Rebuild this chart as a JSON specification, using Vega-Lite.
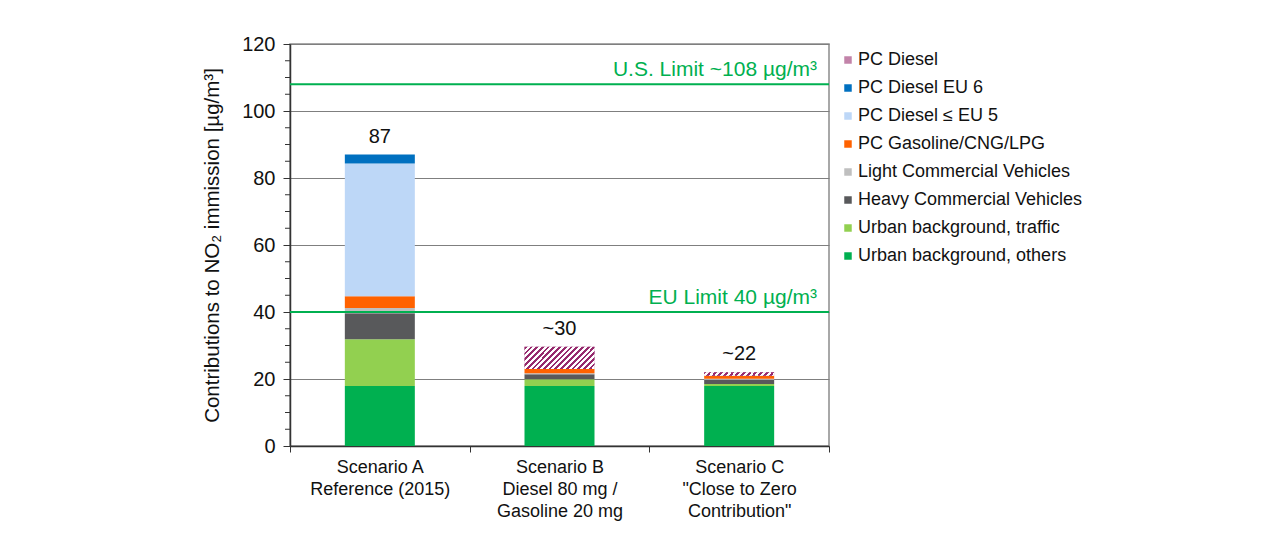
{
  "$schema": "https://vega.github.io/schema/vega-lite/v6.json",
  "width": 539,
  "height": 402,
  "autosize": {"type": "none"},
  "padding": {"left": 290, "top": 44, "right": 451, "bottom": 89},
  "background": "white",
  "config": {
    "font": "Liberation Sans",
    "view": {"stroke": "#8c8c8c", "strokeWidth": 1.5},
    "axis": {"labelFont": "Liberation Sans", "titleFont": "Liberation Sans", "labelColor": "#111", "titleColor": "#111", "labelFontSize": 18, "titleFontSize": 18, "titleFontWeight": "normal", "domainColor": "#333", "tickColor": "#333"},
    "legend": {"labelFont": "Liberation Sans", "labelFontSize": 18, "labelColor": "#111", "symbolType": "square", "symbolSize": 56, "symbolStrokeWidth": 0, "rowPadding": 10, "offset": 3, "padding": 7, "labelLimit": 400, "labelOffset": 1}
  },
  "datasets": {
    "contrib": [
      {"scenario": "Scenario A|Reference (2015)", "source": "Urban background, others", "value": 17.9},
      {"scenario": "Scenario A|Reference (2015)", "source": "Urban background, traffic", "value": 14.0},
      {"scenario": "Scenario A|Reference (2015)", "source": "Heavy Commercial Vehicles", "value": 7.7},
      {"scenario": "Scenario A|Reference (2015)", "source": "Light Commercial Vehicles", "value": 1.6},
      {"scenario": "Scenario A|Reference (2015)", "source": "PC Gasoline/CNG/LPG", "value": 3.5},
      {"scenario": "Scenario A|Reference (2015)", "source": "PC Diesel ≤ EU 5", "value": 39.6},
      {"scenario": "Scenario A|Reference (2015)", "source": "PC Diesel EU 6", "value": 2.7},
      {"scenario": "Scenario B|Diesel 80 mg /|Gasoline 20 mg", "source": "Urban background, others", "value": 17.9},
      {"scenario": "Scenario B|Diesel 80 mg /|Gasoline 20 mg", "source": "Urban background, traffic", "value": 2.0},
      {"scenario": "Scenario B|Diesel 80 mg /|Gasoline 20 mg", "source": "Heavy Commercial Vehicles", "value": 1.5},
      {"scenario": "Scenario B|Diesel 80 mg /|Gasoline 20 mg", "source": "Light Commercial Vehicles", "value": 0.3},
      {"scenario": "Scenario B|Diesel 80 mg /|Gasoline 20 mg", "source": "PC Gasoline/CNG/LPG", "value": 1.3},
      {"scenario": "Scenario B|Diesel 80 mg /|Gasoline 20 mg", "source": "PC Diesel", "value": 6.6},
      {"scenario": "Scenario C|\"Close to Zero|Contribution\"", "source": "Urban background, others", "value": 17.9},
      {"scenario": "Scenario C|\"Close to Zero|Contribution\"", "source": "Urban background, traffic", "value": 0.6},
      {"scenario": "Scenario C|\"Close to Zero|Contribution\"", "source": "Heavy Commercial Vehicles", "value": 1.3},
      {"scenario": "Scenario C|\"Close to Zero|Contribution\"", "source": "Light Commercial Vehicles", "value": 0.3},
      {"scenario": "Scenario C|\"Close to Zero|Contribution\"", "source": "PC Gasoline/CNG/LPG", "value": 0.9},
      {"scenario": "Scenario C|\"Close to Zero|Contribution\"", "source": "PC Diesel", "value": 1.0}
    ],
    "totals": [
      {"scenario": "Scenario A|Reference (2015)", "total": 87, "label": "87"},
      {"scenario": "Scenario B|Diesel 80 mg /|Gasoline 20 mg", "total": 29.6, "label": "~30"},
      {"scenario": "Scenario C|\"Close to Zero|Contribution\"", "total": 22, "label": "~22"}
    ],
    "limits": [
      {"limit": 40, "label": "EU Limit 40 µg/m³"},
      {"limit": 108, "label": "U.S. Limit ~108 µg/m³"}
    ],
    "minorTicks": [
      {"v": 5}, {"v": 10}, {"v": 15}, {"v": 25}, {"v": 30}, {"v": 35}, {"v": 45}, {"v": 50}, {"v": 55},
      {"v": 65}, {"v": 70}, {"v": 75}, {"v": 85}, {"v": 90}, {"v": 95}, {"v": 105}, {"v": 110}, {"v": 115}
    ]
  },
  "layer": [
    {
      "data": {"name": "contrib"},
      "transform": [
        {"calculate": "indexof(['Urban background, others','Urban background, traffic','Heavy Commercial Vehicles','Light Commercial Vehicles','PC Gasoline/CNG/LPG','PC Diesel ≤ EU 5','PC Diesel EU 6','PC Diesel'], datum.source)", "as": "stackOrder"}
      ],
      "mark": {"type": "bar", "size": 70},
      "encoding": {
        "x": {
          "field": "scenario", "type": "nominal", "sort": null,
          "scale": {"paddingInner": 0, "paddingOuter": 0},
          "axis": {"title": null, "labelAngle": 0, "labelExpr": "datum.value ? split(datum.value, '|') : ''", "labelLineHeight": 22, "tickBand": "extent", "tickSize": 6, "labelPadding": 6, "domainWidth": 1.5}
        },
        "y": {
          "field": "value", "type": "quantitative", "aggregate": "sum", "stack": "zero",
          "scale": {"domain": [0, 120], "nice": false},
          "axis": {"title": "Contributions to NO₂ immission [µg/m³]", "values": [0, 20, 40, 60, 80, 100, 120], "grid": true, "gridColor": "#7f7f7f", "gridWidth": 1.2, "tickSize": 7, "labelPadding": 8, "labelFontSize": 20, "titleFontSize": 20.5, "titlePadding": 19, "domainWidth": 1.5}
        },
        "order": {"field": "stackOrder", "type": "quantitative", "aggregate": "min", "sort": "ascending"},
        "color": {
          "field": "source", "type": "nominal",
          "scale": {
            "domain": ["PC Diesel", "PC Diesel EU 6", "PC Diesel ≤ EU 5", "PC Gasoline/CNG/LPG", "Light Commercial Vehicles", "Heavy Commercial Vehicles", "Urban background, traffic", "Urban background, others"],
            "range": ["#c283a9", "#0070c0", "#bdd7f7", "#ff6200", "#bfbfbf", "#58595b", "#92d050", "#00b050"]
          },
          "legend": {"title": null, "orient": "right"}
        }
      }
    },
    {
      "data": {"name": "contrib"},
      "transform": [
        {"calculate": "indexof(['Urban background, others','Urban background, traffic','Heavy Commercial Vehicles','Light Commercial Vehicles','PC Gasoline/CNG/LPG','PC Diesel ≤ EU 5','PC Diesel EU 6','PC Diesel'], datum.source)", "as": "stackOrder"},
        {"stack": "value", "groupby": ["scenario"], "sort": [{"field": "stackOrder", "order": "ascending"}], "as": ["v0", "v1"]},
        {"filter": "datum.source === 'PC Diesel'"}
      ],
      "mark": {"type": "bar", "size": 70, "fill": {"gradient": "linear", "x1": 0, "y1": 0, "x2": 1.19, "y2": 0.374, "stops": [
                {"offset": 0, "color": "#962a6e"}, {"offset": 0.03, "color": "#962a6e"}, {"offset": 0.03, "color": "#ffffff"}, {"offset": 0.0625, "color": "#ffffff"},
                {"offset": 0.0625, "color": "#962a6e"}, {"offset": 0.0925, "color": "#962a6e"}, {"offset": 0.0925, "color": "#ffffff"}, {"offset": 0.125, "color": "#ffffff"},
                {"offset": 0.125, "color": "#962a6e"}, {"offset": 0.155, "color": "#962a6e"}, {"offset": 0.155, "color": "#ffffff"}, {"offset": 0.1875, "color": "#ffffff"},
                {"offset": 0.1875, "color": "#962a6e"}, {"offset": 0.2175, "color": "#962a6e"}, {"offset": 0.2175, "color": "#ffffff"}, {"offset": 0.25, "color": "#ffffff"},
                {"offset": 0.25, "color": "#962a6e"}, {"offset": 0.28, "color": "#962a6e"}, {"offset": 0.28, "color": "#ffffff"}, {"offset": 0.3125, "color": "#ffffff"},
                {"offset": 0.3125, "color": "#962a6e"}, {"offset": 0.3425, "color": "#962a6e"}, {"offset": 0.3425, "color": "#ffffff"}, {"offset": 0.375, "color": "#ffffff"},
                {"offset": 0.375, "color": "#962a6e"}, {"offset": 0.405, "color": "#962a6e"}, {"offset": 0.405, "color": "#ffffff"}, {"offset": 0.4375, "color": "#ffffff"},
                {"offset": 0.4375, "color": "#962a6e"}, {"offset": 0.4675, "color": "#962a6e"}, {"offset": 0.4675, "color": "#ffffff"}, {"offset": 0.5, "color": "#ffffff"},
                {"offset": 0.5, "color": "#962a6e"}, {"offset": 0.53, "color": "#962a6e"}, {"offset": 0.53, "color": "#ffffff"}, {"offset": 0.5625, "color": "#ffffff"},
                {"offset": 0.5625, "color": "#962a6e"}, {"offset": 0.5925, "color": "#962a6e"}, {"offset": 0.5925, "color": "#ffffff"}, {"offset": 0.625, "color": "#ffffff"},
                {"offset": 0.625, "color": "#962a6e"}, {"offset": 0.655, "color": "#962a6e"}, {"offset": 0.655, "color": "#ffffff"}, {"offset": 0.6875, "color": "#ffffff"},
                {"offset": 0.6875, "color": "#962a6e"}, {"offset": 0.7175, "color": "#962a6e"}, {"offset": 0.7175, "color": "#ffffff"}, {"offset": 0.75, "color": "#ffffff"},
                {"offset": 0.75, "color": "#962a6e"}, {"offset": 0.78, "color": "#962a6e"}, {"offset": 0.78, "color": "#ffffff"}, {"offset": 0.8125, "color": "#ffffff"},
                {"offset": 0.8125, "color": "#962a6e"}, {"offset": 0.8425, "color": "#962a6e"}, {"offset": 0.8425, "color": "#ffffff"}, {"offset": 0.875, "color": "#ffffff"},
                {"offset": 0.875, "color": "#962a6e"}, {"offset": 0.905, "color": "#962a6e"}, {"offset": 0.905, "color": "#ffffff"}, {"offset": 0.9375, "color": "#ffffff"},
                {"offset": 0.9375, "color": "#962a6e"}, {"offset": 0.9675, "color": "#962a6e"}, {"offset": 0.9675, "color": "#ffffff"}, {"offset": 1, "color": "#ffffff"}
              ]}},
      "encoding": {
        "x": {"field": "scenario", "type": "nominal", "sort": null},
        "y": {"field": "v0", "type": "quantitative"},
        "y2": {"field": "v1"}
      }
    },
    {
      "data": {"name": "minorTicks"},
      "mark": {"type": "rule", "color": "#333", "strokeWidth": 1, "x2Offset": {"expr": "-bandwidth('x')/2 - 5"}},
      "encoding": {
        "x": {"datum": "Scenario A|Reference (2015)", "type": "nominal", "bandPosition": 0},
        "x2": {"datum": "Scenario A|Reference (2015)"},
        "y": {"field": "v", "type": "quantitative"}
      }
    },
    {
      "data": {"name": "limits"},
      "mark": {"type": "rule", "color": "#00b050", "strokeWidth": 2},
      "encoding": {"y": {"field": "limit", "type": "quantitative"}}
    },
    {
      "data": {"name": "limits"},
      "mark": {"type": "text", "color": "#00b050", "fontSize": 21, "align": "right", "baseline": "alphabetic", "dx": -12, "dy": -8},
      "encoding": {
        "x": {"datum": "Scenario C|\"Close to Zero|Contribution\"", "type": "nominal", "bandPosition": 1},
        "y": {"field": "limit", "type": "quantitative"},
        "text": {"field": "label"}
      }
    },
    {
      "data": {"name": "totals"},
      "mark": {"type": "text", "color": "#111", "fontSize": 20, "baseline": "alphabetic", "dy": -12},
      "encoding": {
        "x": {"field": "scenario", "type": "nominal", "sort": null},
        "y": {"field": "total", "type": "quantitative"},
        "text": {"field": "label"}
      }
    }
  ]
}
